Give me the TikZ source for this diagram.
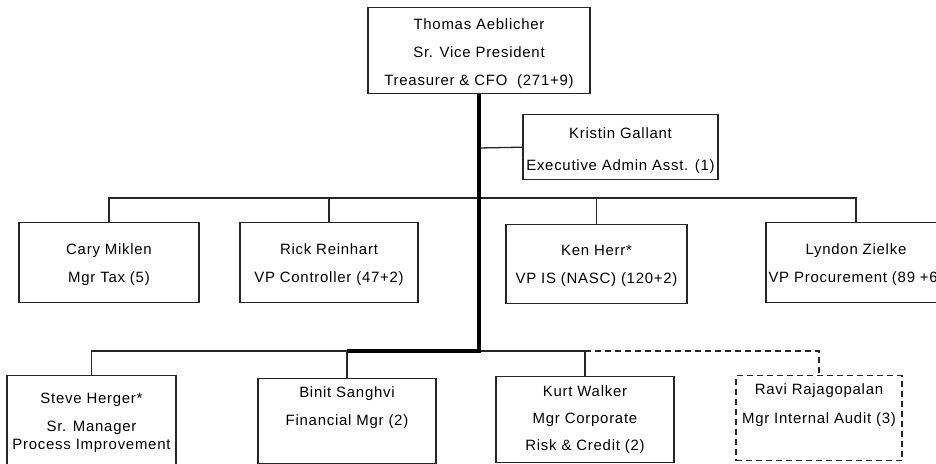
\documentclass[tikz,border=0pt]{standalone}
\usepackage{fontspec}
\setmainfont[LetterSpace=5]{Liberation Sans}
\begin{document}
\begin{tikzpicture}[x=1bp,y=-1bp,
  box/.style={draw=black!85, line width=1.4bp, inner sep=0pt, align=center, anchor=north, font=\fontsize{15}{28}\selectfont},
  dbox/.style={box, dash pattern=on 6bp off 4bp},
  conn/.style={draw=black!85, line width=1.3bp},
  trunk/.style={draw=black, line width=3.5bp},
  dconn/.style={conn, dash pattern=on 6bp off 4bp}
]
\useasboundingbox (0,0) rectangle (936,464);

% top
\node[box, minimum width=222bp, minimum height=86bp, text height=72bp] (ceo) at (479,7)
  {Thomas Aeblicher\\Sr. Vice President\\Treasurer \& CFO\ \ (271+9)};
\node[box, minimum width=195bp, minimum height=65bp, text height=50bp, font=\fontsize{15}{32}\selectfont] (kristin) at (620.5,114)
  {Kristin Gallant\\Executive Admin Asst. (1)};

% level 2
\node[box, minimum width=180bp, minimum height=80bp, text height=42bp] (cary) at (109,222) {Cary Miklen\\Mgr Tax (5)};
\node[box, minimum width=178bp, minimum height=80bp, text height=42bp] (rick) at (329,222) {Rick Reinhart\\VP Controller (47+2)};
\node[box, minimum width=181bp, minimum height=79bp, text height=42bp] (ken) at (596.5,224) {Ken Herr*\\VP IS (NASC) (120+2)};
\node[box, minimum width=180bp, minimum height=80bp, text height=42bp] (lyndon) at (856,222) {Lyndon Zielke\\VP Procurement (89 +6)};

% level 3
\node[box, minimum width=169bp, inner ysep=17bp, text depth=110bp, font=\fontsize{15}{19}\selectfont] (steve) at (91.5,375)
  {Steve Herger*\\[9bp]Sr. Manager\\Process Improvement};
\node[box, minimum width=178bp, minimum height=85bp, font=\fontsize{15}{27.5}\selectfont] (binit) at (347,378)
  {Binit Sanghvi\\Financial Mgr (2)\\\phantom{(2)}};
\node[box, minimum width=178bp, minimum height=86bp, font=\fontsize{15}{27.5}\selectfont] (kurt) at (585,376)
  {Kurt Walker\\Mgr Corporate\\Risk \& Credit (2)};
\node[dbox, minimum width=166bp, minimum height=85bp, text height=72bp, font=\fontsize{15}{29}\selectfont] (ravi) at (819,375)
  {Ravi Rajagopalan\\Mgr Internal Audit (3)\\\phantom{(3)}};

% junctions
\coordinate (jk) at (479,148);
\coordinate (j2) at (479,198);
\coordinate (j3) at (479,351);
\coordinate (b2l) at (cary.north |- j2);
\coordinate (b2r) at (lyndon.north |- j2);
\coordinate (b3s) at (steve.north |- j3);
\coordinate (b3b) at (binit.north |- j3);
\coordinate (b3k) at (kurt.north |- j3);
\coordinate (b3r) at (ravi.north |- j3);

% level 2 bus
\draw[conn] (cary.north) -- (b2l) -- (b2r) -- (lyndon.north);
\draw[conn] (rick.north) -- (rick.north |- j2);
\draw[conn] (ken.north) -- (ken.north |- j2);
% assistant
\draw[conn] (jk) -- (kristin.west);
% level 3 bus
\draw[conn] (steve.north) -- (b3s) -- (b3b) -- (binit.north);
\draw[conn] (j3) -- (b3k) -- (kurt.north);
\draw[dconn] (b3k) -- (b3r) -- (ravi.north);
% trunk
\draw[trunk, line join=miter] (ceo.south) -- (j3) -- (b3b);
\end{tikzpicture}
\end{document}
